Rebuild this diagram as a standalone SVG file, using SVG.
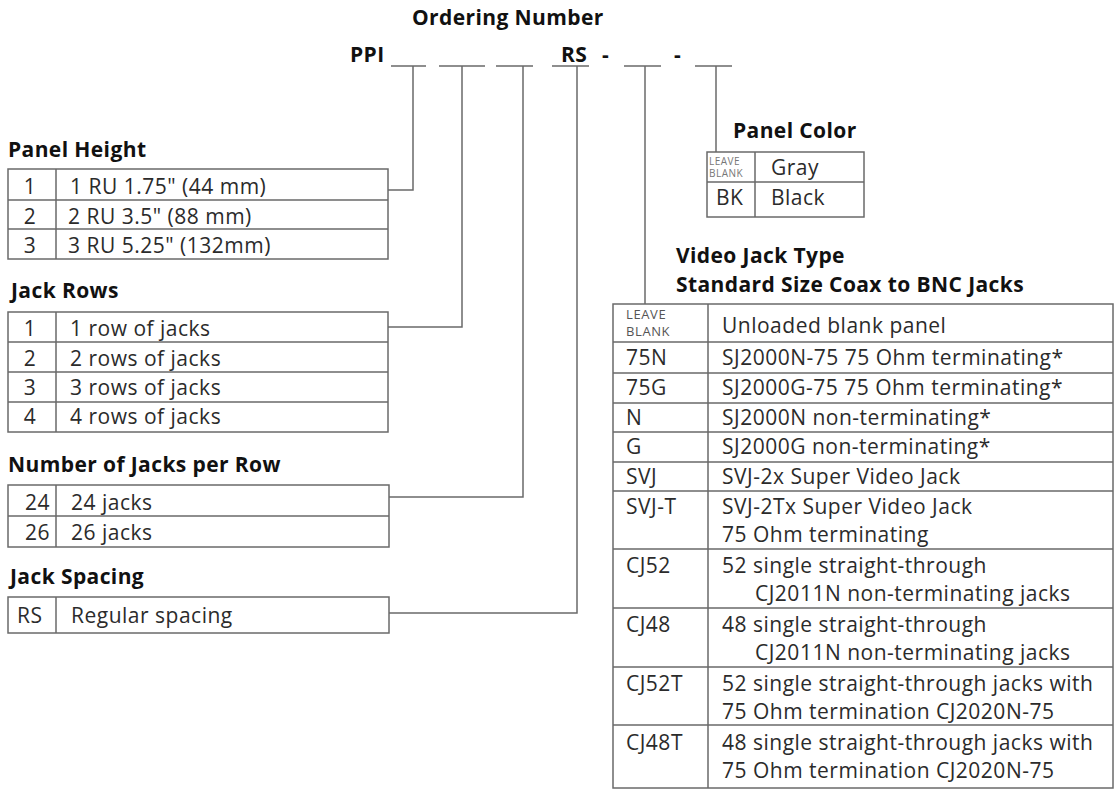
<svg xmlns="http://www.w3.org/2000/svg" width="1116" height="790" viewBox="0 0 1116 790">
<style>
.t{font-family:"Open Sans","Liberation Sans",sans-serif;font-size:21px;fill:#2b2b2b;letter-spacing:0.5px}
.b{font-family:"Open Sans","Liberation Sans",sans-serif;font-size:21px;font-weight:700;fill:#111;letter-spacing:0.4px}
.c{text-anchor:middle}
.e{text-anchor:end}
.sm{font-family:"Open Sans","Liberation Sans",sans-serif;font-size:13px;fill:#555;letter-spacing:0.6px}
.xs{font-family:"Open Sans","Liberation Sans",sans-serif;font-size:10px;fill:#777;letter-spacing:0.5px}
.box{fill:#fff;stroke:#6a6a6a;stroke-width:1.5}
.ln{fill:none;stroke:#6a6a6a;stroke-width:1.5}
</style>
<rect width="1116" height="790" fill="#fff"/>

<g id="header">
<text class="b" x="412" y="25">Ordering Number</text>
<text class="b" x="350" y="62">PPI</text>
<text class="b" x="561" y="62">RS</text>
<text class="b" x="602" y="62">-</text>
<text class="b" x="674" y="62">-</text>
<path class="ln" d="M391 66H426M439 66H485M496 66H533M552 66H589M624 66H661M695 66H732"/>
</g>

<g id="connectors">
<path class="ln" d="M413 66V190H388"/>
<path class="ln" d="M462 66V327H388"/>
<path class="ln" d="M523 66V497H389"/>
<path class="ln" d="M577 66V613H389"/>
<path class="ln" d="M645 66V304"/>
<path class="ln" d="M716 66V152"/>
</g>

<g id="panel-height">
<text class="b" x="8" y="157">Panel Height</text>
<rect class="box" x="8" y="169" width="380" height="90"/>
<path class="ln" d="M8 200H388M8 229H388M56 169V259"/>
<text class="t c" x="30" y="194">1</text>
<text class="t" x="70" y="194">1 RU 1.75" (44 mm)</text>
<text class="t c" x="30" y="224">2</text>
<text class="t" x="68" y="224">2 RU 3.5" (88 mm)</text>
<text class="t c" x="30" y="253">3</text>
<text class="t" x="68" y="253">3 RU 5.25" (132mm)</text>
</g>

<g id="jack-rows">
<text class="b" x="11" y="298">Jack Rows</text>
<rect class="box" x="8" y="312" width="380" height="120"/>
<path class="ln" d="M8 342H388M8 372H388M8 402H388M56 312V432"/>
<text class="t c" x="30" y="336">1</text>
<text class="t" x="70" y="336">1 row of jacks</text>
<text class="t c" x="30" y="366">2</text>
<text class="t" x="70" y="366">2 rows of jacks</text>
<text class="t c" x="30" y="395">3</text>
<text class="t" x="70" y="395">3 rows of jacks</text>
<text class="t c" x="30" y="424">4</text>
<text class="t" x="70" y="424">4 rows of jacks</text>
</g>

<g id="jacks-per-row">
<text class="b" x="8" y="472">Number of Jacks per Row</text>
<rect class="box" x="8" y="485" width="381" height="62"/>
<path class="ln" d="M8 516H389M56 485V547"/>
<text class="t e" x="50" y="510">24</text>
<text class="t" x="71" y="510">24 jacks</text>
<text class="t e" x="50" y="540">26</text>
<text class="t" x="71" y="540">26 jacks</text>
</g>

<g id="jack-spacing">
<text class="b" x="10" y="584">Jack Spacing</text>
<rect class="box" x="8" y="597" width="381" height="36"/>
<path class="ln" d="M56 597V633"/>
<text class="t" x="17" y="623">RS</text>
<text class="t" x="71" y="623">Regular spacing</text>
</g>

<g id="panel-color">
<text class="b" x="733" y="138">Panel Color</text>
<rect class="box" x="707" y="152" width="157" height="65"/>
<path class="ln" d="M707 182H864M755 152V217"/>
<text class="xs" x="709" y="165">LEAVE</text>
<text class="xs" x="709" y="177">BLANK</text>
<text class="t" x="771" y="175">Gray</text>
<text class="t" x="716" y="205">BK</text>
<text class="t" x="771" y="205">Black</text>
</g>

<g id="video-jack-type">
<text class="b" x="676" y="263">Video Jack Type</text>
<text class="b" x="676" y="292">Standard Size Coax to BNC Jacks</text>
<rect class="box" x="613" y="304" width="500" height="484"/>
<path class="ln" d="M613 342H1113M613 373H1113M613 403H1113M613 432H1113M613 462H1113M613 491H1113M613 549H1113M613 608H1113M613 667H1113M613 725H1113M708 304V788"/>
<text class="sm" x="626" y="319">LEAVE</text>
<text class="sm" x="626" y="336">BLANK</text>
<text class="t" x="722" y="333">Unloaded blank panel</text>
<text class="t" x="626" y="365">75N</text>
<text class="t" x="722" y="365">SJ2000N-75 75 Ohm terminating*</text>
<text class="t" x="626" y="395">75G</text>
<text class="t" x="722" y="395">SJ2000G-75 75 Ohm terminating*</text>
<text class="t" x="626" y="425">N</text>
<text class="t" x="722" y="425">SJ2000N non-terminating*</text>
<text class="t" x="626" y="454">G</text>
<text class="t" x="722" y="454">SJ2000G non-terminating*</text>
<text class="t" x="626" y="484">SVJ</text>
<text class="t" x="722" y="484">SVJ-2x Super Video Jack</text>
<text class="t" x="626" y="514">SVJ-T</text>
<text class="t" x="722" y="514">SVJ-2Tx Super Video Jack</text>
<text class="t" x="722" y="542">75 Ohm terminating</text>
<text class="t" x="626" y="573">CJ52</text>
<text class="t" x="722" y="573">52 single straight-through</text>
<text class="t" x="755" y="601">CJ2011N non-terminating jacks</text>
<text class="t" x="626" y="632">CJ48</text>
<text class="t" x="722" y="632">48 single straight-through</text>
<text class="t" x="755" y="660">CJ2011N non-terminating jacks</text>
<text class="t" x="626" y="691">CJ52T</text>
<text class="t" x="722" y="691">52 single straight-through jacks with</text>
<text class="t" x="722" y="719">75 Ohm termination CJ2020N-75</text>
<text class="t" x="626" y="750">CJ48T</text>
<text class="t" x="722" y="750">48 single straight-through jacks with</text>
<text class="t" x="722" y="778">75 Ohm termination CJ2020N-75</text>
</g>
</svg>
